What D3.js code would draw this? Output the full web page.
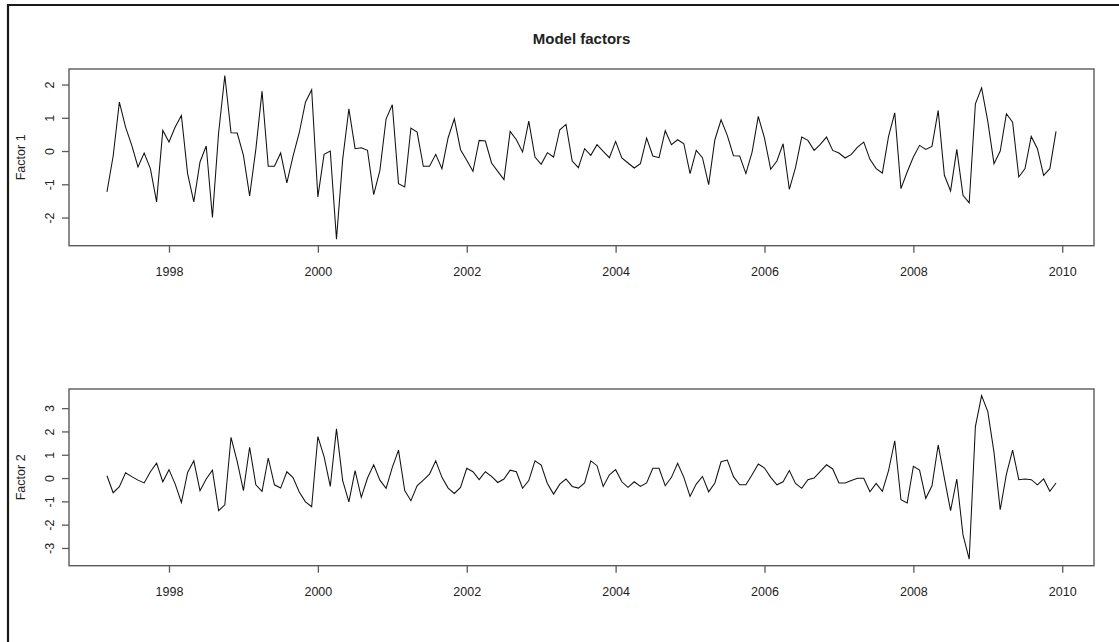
<!DOCTYPE html>
<html><head><meta charset="utf-8">
<script src="https://cdn.jsdelivr.net/npm/d3@7"></script>
<style>body{margin:0;background:#fff}svg{display:block}</style>
</head><body><svg id="c" width="1119" height="642"></svg>
<script>
const chartTitle = "Model factors";
const seriesNames = ["Factor 1", "Factor 2"];
const startYear = 1997, startMonth = 3, frequency = 12;
const factor1 = [
 -1.23,-0.15,1.47,0.72,0.17,-0.48,-0.06,-0.53,-1.53,0.62,0.27,0.72,1.07,-0.68,-1.53,-0.33,0.15,-2.0,0.55,2.27,
 0.55,0.54,-0.13,-1.35,0.05,1.8,-0.46,-0.46,-0.06,-0.96,-0.15,0.55,1.47,1.84,-1.38,-0.1,0.0,-2.65,-0.25,1.27,
 0.07,0.1,0.02,-1.31,-0.58,0.97,1.39,-0.98,-1.08,0.69,0.57,-0.46,-0.46,-0.1,-0.53,0.4,0.97,0.04,-0.28,-0.61,
 0.32,0.3,-0.36,-0.61,-0.86,0.59,0.34,-0.03,0.9,-0.18,-0.4,-0.05,-0.18,0.64,0.8,-0.3,-0.5,0.07,-0.13,0.19,
 -0.01,-0.2,0.29,-0.21,-0.36,-0.51,-0.38,0.39,-0.15,-0.2,0.61,0.19,0.34,0.22,-0.68,0.02,-0.2,-1.01,0.34,0.94,
 0.47,-0.14,-0.15,-0.68,-0.03,1.04,0.39,-0.55,-0.3,0.22,-1.15,-0.5,0.42,0.32,0.02,0.2,0.42,0.02,-0.06,-0.21,
 -0.1,0.12,0.27,-0.25,-0.53,-0.66,0.44,1.15,-1.13,-0.63,-0.18,0.17,0.05,0.14,1.22,-0.73,-1.2,0.05,-1.33,-1.56,
 1.42,1.9,0.89,-0.38,0.0,1.12,0.87,-0.78,-0.53,0.44,0.07,-0.73,-0.53,0.59
];
const factor2 = [
 0.1,-0.63,-0.37,0.23,0.06,-0.09,-0.21,0.27,0.64,-0.16,0.36,-0.26,-1.05,0.24,0.74,-0.54,-0.04,0.34,-1.4,-1.15,
 1.75,0.7,-0.54,1.32,-0.29,-0.57,0.86,-0.29,-0.43,0.27,0.02,-0.6,-1.02,-1.23,1.78,0.92,-0.36,2.11,-0.11,-1.02,
 0.32,-0.83,0.0,0.57,-0.09,-0.44,0.46,1.2,-0.54,-0.97,-0.33,-0.09,0.17,0.74,0.03,-0.43,-0.66,-0.4,0.42,0.27,
 -0.07,0.27,0.07,-0.19,-0.04,0.34,0.27,-0.44,-0.11,0.74,0.56,-0.23,-0.69,-0.26,-0.04,-0.36,-0.43,-0.21,0.74,0.53,
 -0.36,0.14,0.36,-0.16,-0.4,-0.16,-0.36,-0.21,0.42,0.42,-0.33,0.03,0.63,0.03,-0.79,-0.26,0.07,-0.59,-0.21,0.7,
 0.77,0.06,-0.29,-0.29,0.14,0.6,0.43,0.03,-0.29,-0.16,0.32,-0.23,-0.44,-0.07,0.0,0.29,0.57,0.39,-0.21,-0.21,
 -0.11,-0.01,-0.01,-0.59,-0.23,-0.57,0.32,1.6,-0.93,-1.07,0.5,0.34,-0.87,-0.33,1.42,0.0,-1.4,-0.04,-2.44,-3.48,
 2.21,3.54,2.85,1.1,-1.36,0.17,1.2,-0.07,-0.04,-0.07,-0.29,-0.04,-0.57,-0.21
];
const xTickLabels = [1998, 2000, 2002, 2004, 2006, 2008, 2010];
const yTickLabels1 = [-2, -1, 0, 1, 2];
const yTickLabels2 = [-3, -2, -1, 0, 1, 2, 3];

const svg = d3.select("#c");
const font = "Liberation Sans, Arial, sans-serif";
const W = 1119, H = 642;

// outer frame (left and top edges visible)
svg.append("path").attr("d", `M8,${H} L8,5 L${W},5`).attr("fill","none")
  .attr("stroke","#1a1a1a").attr("stroke-width",2.2);

const left = 69, right = 1094;
const panels = [
  {name: seriesNames[0], values: factor1, top: 69, bottom: 245.7, yt: yTickLabels1},
  {name: seriesNames[1], values: factor2, top: 389, bottom: 565.7, yt: yTickLabels2}
];

function rPad(ext){ const r = ext[1]-ext[0]; return [ext[0]-0.04*r, ext[1]+0.04*r]; }

const fmt = d => String(d).replace("\u2212","-");

panels.forEach(p => {
  const times = p.values.map((v,i) => startYear + (startMonth-1+i)/frequency);
  const x = d3.scaleLinear().domain(rPad(d3.extent(times))).range([left, right]);
  const y = d3.scaleLinear().domain(rPad(d3.extent(p.values))).range([p.bottom, p.top]);
  const g = svg.append("g");

  // line
  const line = d3.line().x((d,i)=>x(times[i])).y(d=>y(d));
  g.append("path").datum(p.values).attr("d", line).attr("fill","none")
    .attr("stroke","#111").attr("stroke-width",1.05).attr("stroke-linejoin","miter");

  // box
  g.append("rect").attr("x",left).attr("y",p.top).attr("width",right-left).attr("height",p.bottom-p.top)
    .attr("fill","none").attr("stroke","#5a5a5a").attr("stroke-width",1.4);

  // x axis
  const xa = g.append("g").attr("transform",`translate(0,${p.bottom})`)
    .call(d3.axisBottom(x).tickValues(xTickLabels).tickSize(7).tickPadding(0).tickFormat(d=>String(d)));
  xa.select(".domain").remove();
  xa.selectAll(".tick line").attr("stroke","#5a5a5a").attr("stroke-width",1.3);
  xa.selectAll(".tick text").attr("font-family",font).attr("font-size","12.5px").attr("fill","#222")
    .attr("dy",null).attr("y",30.7);

  // y axis
  const ya = g.append("g").attr("transform",`translate(${left},0)`)
    .call(d3.axisLeft(y).tickValues(p.yt).tickSize(7).tickFormat(fmt));
  ya.select(".domain").remove();
  ya.selectAll(".tick line").attr("stroke","#5a5a5a").attr("stroke-width",1.3);
  ya.selectAll(".tick text").attr("font-family",font).attr("font-size","12.5px").attr("fill","#222")
    .attr("x",null).attr("dy",null).attr("text-anchor","middle")
    .attr("transform","translate(-15.5,0) rotate(-90)");

  // y label
  g.append("text").attr("transform",`translate(24.5,${(p.top+p.bottom)/2}) rotate(-90)`)
    .attr("text-anchor","middle").attr("font-family",font).attr("font-size","12.5px").attr("fill","#222")
    .text(p.name);
});

svg.append("text").attr("x",(left+right)/2).attr("y",44).attr("text-anchor","middle")
  .attr("font-family",font).attr("font-weight","bold").attr("font-size","15px").attr("fill","#222")
  .text(chartTitle);
</script></body></html>
